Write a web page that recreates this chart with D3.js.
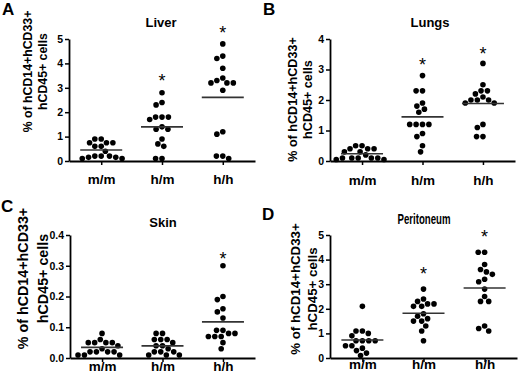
<!DOCTYPE html>
<html>
<head>
<meta charset="utf-8">
<script src="https://cdn.jsdelivr.net/npm/d3@7"></script>
<style>
body { margin: 0; background: #fff; }
svg { display: block; font-family: Arial, "Liberation Sans", sans-serif; }
.axis path, .axis line { stroke: #000; }
.axis text { font-weight: bold; fill: #000; }
</style>
</head>
<body>
<svg id="chart" width="520" height="378"></svg>
<script>
const groups = ["m/m", "h/m", "h/h"]

const liverMM = [0.9, 0.9, 0.75, 0.75, 0.75, 0.6, 0.6, 0.4, 0.2, 0.2, 0.15, 0.15, 0.1, 0.1, 0.2]
const liverHM = [2.8, 2.4, 2.3, 1.8, 1.8, 1.8, 1.7, 1.4, 1.3, 1.3, 0.9, 0.7, 0.6, 0.1, 0.1]
const liverHH = [4.8, 4.3, 4.2, 3.8, 3.4, 3.3, 3.2, 3.2, 3.2, 2.9, 1.2, 1.1, 0.2, 0.1, 0.2]

const lungsMM = [0.5, 0.5, 0.4, 0.4, 0.4, 0.3, 0.3, 0.2, 0.1, 0.1, 0.1, 0.1, 0.1, 0.05, 0.05]
const lungsHM = [2.8, 2.3, 2.3, 1.9, 1.8, 1.7, 1.6, 1.2, 1.2, 1.2, 1.2, 0.9, 0.8, 0.5, 0.3]
const lungsHH = [3.2, 2.5, 2.3, 2.3, 2.2, 2.1, 2.0, 2.0, 2.0, 1.9, 1.9, 1.2, 1.1, 0.8, 0.8]

const skinMM = [0.08, 0.06, 0.05, 0.05, 0.05, 0.05, 0.04, 0.03, 0.02, 0.02, 0.02, 0.02, 0.01, 0.01, 0.01]
const skinHM = [0.08, 0.08, 0.06, 0.06, 0.06, 0.05, 0.04, 0.04, 0.03, 0.02, 0.02, 0.02, 0.01, 0.01, 0.01]
const skinHH = [0.30, 0.20, 0.19, 0.16, 0.15, 0.13, 0.09, 0.09, 0.08, 0.08, 0.07, 0.07, 0.07, 0.05, 0.03]

const peritMM = [2.1, 1.1, 1.1, 1.0, 0.9, 0.7, 0.7, 0.7, 0.7, 0.5, 0.5, 0.4, 0.3, 0.2, 0.1]
const peritHM = [2.8, 2.4, 2.3, 2.2, 2.2, 2.1, 2.1, 1.8, 1.7, 1.6, 1.5, 1.5, 1.3, 1.1, 0.7]
const peritHH = [4.3, 4.3, 3.8, 3.6, 3.5, 3.4, 3.2, 3.1, 2.8, 2.5, 2.3, 2.3, 1.3, 1.2, 1.1]

// level (in data units) of the significance stars, null = none
const liverStars = [null, 3.48, 5.43]
const lungsStars = [null, 3.31, 3.64]
const skinStars = [null, null, 0.338]
const peritStars = [null, 3.58, 5.11]

const liverTicks = [0, 1, 2, 3, 4, 5]
const lungsTicks = [0, 1, 2, 3, 4]
const skinTicks = [0, 0.1, 0.2, 0.3, 0.4]
const peritTicks = [0, 1, 2, 3, 4, 5]

const yLabel = ["% of hCD14+hCD33+", "hCD45+ cells"]

const panels = [
	{ letter: "A", lx: 2, ly: 15, title: "Liver", tx: 161, ty: 27,
	  series: [liverMM, liverHM, liverHH], stars: liverStars, ticks: liverTicks, fmt: d3.format("d"),
	  x: [69, 255], y: [161, 39], labX: [28, 43], labY: 71.5, labFs: 12.3, xOff: 22.5 },
	{ letter: "B", lx: 263, ly: 15, title: "Lungs", tx: 430, ty: 27,
	  series: [lungsMM, lungsHM, lungsHH], stars: lungsStars, ticks: lungsTicks, fmt: d3.format("d"),
	  x: [330, 515], y: [161, 39], labX: [293, 308], labY: 99.5, labFs: 12.6, xOff: 24 },
	{ letter: "C", lx: 1, ly: 212, title: "Skin", tx: 163, ty: 227,
	  series: [skinMM, skinHM, skinHH], stars: skinStars, ticks: skinTicks, fmt: d3.format(".1f"),
	  x: [70, 255], y: [358, 235], labX: [23, 43], labY: 278.5, labFs: 14.3, xOff: 12.5 },
	{ letter: "D", lx: 262, ly: 220, title: "Peritoneum", tx: 424, ty: 224, titleLen: 53,
	  series: [peritMM, peritHM, peritHH], stars: peritStars, ticks: peritTicks, fmt: d3.format("d"),
	  x: [330, 517], y: [358, 235], labX: [295, 312], labY: 289, labFs: 13.3, xOff: 11 }
]

const svg = d3.select("#chart")

// simple beeswarm: spread points sideways so no two dots are closer than d
function swarm(values, cx, y, d) {
	const pts = values.map(v => ({ v: v, py: y(v), px: cx }))
	const placed = []
	pts.slice().sort((a, b) => b.v - a.v).forEach(p => {
		const blocks = placed.filter(q => Math.abs(q.py - p.py) < d).map(q => {
			const w = Math.sqrt(d * d - (q.py - p.py) * (q.py - p.py))
			return [q.px - cx - w, q.px - cx + w]
		})
		const cands = [0]
		blocks.forEach(b => cands.push(b[0], b[1]))
		cands.sort((a, b) => Math.abs(a) - Math.abs(b) || a - b)
		const off = cands.find(c => blocks.every(b => c <= b[0] + 1e-6 || c >= b[1] - 1e-6))
		p.px = cx + off
		placed.push(p)
	})
	return pts
}

function drawPanel(p) {
	const g = svg.append("g")
	const x = d3.scalePoint().domain(groups).range(p.x).padding(0.53)
	const y = d3.scaleLinear().domain([0, p.ticks[p.ticks.length - 1]]).range(p.y)

	g.append("text")
		.attr("x", p.lx).attr("y", p.ly)
		.attr("font-size", 17).attr("font-weight", "bold")
		.text(p.letter)

	const title = g.append("text")
		.attr("x", p.tx).attr("y", p.ty)
		.attr("text-anchor", "middle")
		.attr("font-size", 13).attr("font-weight", "bold")
		.text(p.title)
	if (p.titleLen) title.attr("textLength", p.titleLen).attr("lengthAdjust", "spacingAndGlyphs").attr("font-size", 14)

	yLabel.forEach((line, i) => {
		g.append("text")
			.attr("transform", "translate(" + p.labX[i] + "," + p.labY + ") rotate(-90)")
			.attr("text-anchor", "middle")
			.attr("dy", "0.35em")
			.attr("font-size", p.labFs).attr("font-weight", "bold")
			.text(line)
	})

	const yAxis = g.append("g")
		.attr("class", "axis")
		.attr("transform", "translate(" + p.x[0] + ",0)")
		.call(d3.axisLeft(y).tickValues(p.ticks).tickFormat(p.fmt).tickSize(4).tickSizeOuter(0).tickPadding(2))
	yAxis.select(".domain").attr("stroke-width", 1.8)
	yAxis.selectAll(".tick line").attr("stroke-width", 1.5)
	yAxis.selectAll("text").attr("font-size", 10.5)

	const xAxis = g.append("g")
		.attr("class", "axis")
		.attr("transform", "translate(0," + y(0) + ")")
		.call(d3.axisBottom(x).tickSize(4).tickSizeOuter(0))
	xAxis.select(".domain").attr("stroke-width", 1.8)
	xAxis.selectAll(".tick line").attr("stroke-width", 1.5)
	xAxis.selectAll("text").attr("font-size", 13.5).attr("y", p.xOff).attr("dy", 0)

	p.series.forEach((values, i) => {
		const cx = x(groups[i])
		const pts = swarm(values, cx, y, 6.4)
		g.append("g").selectAll("circle")
			.data(pts)
			.join("circle")
			.attr("cx", d => d.px)
			.attr("cy", d => d.py)
			.attr("r", 2.8)
			.attr("fill", "#000")

		const m = d3.mean(values)
		g.append("line")
			.attr("x1", cx - 21).attr("x2", cx + 21)
			.attr("y1", y(m)).attr("y2", y(m))
			.attr("stroke", "#333").attr("stroke-width", 1.6)

		if (p.stars[i] != null) {
			g.append("text")
				.attr("x", cx).attr("y", y(p.stars[i]) + 10.5)
				.attr("text-anchor", "middle")
				.attr("font-size", 18)
				.text("*")
		}
	})
}

panels.forEach(drawPanel)
</script>
</body>
</html>
